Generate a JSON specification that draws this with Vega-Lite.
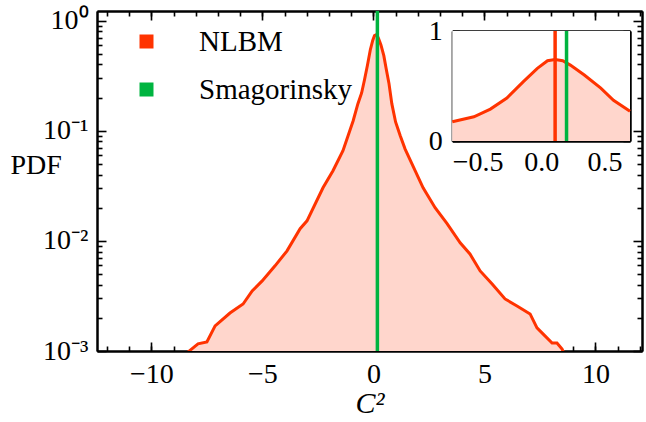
{
  "$schema": "https://vega.github.io/schema/vega-lite/v6.json",
  "autosize": "none",
  "width": 545,
  "height": 340,
  "padding": {"left": 97, "top": 11, "right": 4, "bottom": 71},
  "background": "white",
  "config": {
    "view": {"stroke": null},
    "axis": {
      "grid": false,
      "domainColor": "black",
      "domainWidth": 2,
      "tickColor": "black",
      "tickWidth": 1.6,
      "labelFont": "Liberation Serif",
      "labelFontSize": 28,
      "labelColor": "black",
      "titleFont": "Liberation Serif",
      "titleColor": "black",
      "titleFontWeight": "normal"
    },
    "legend": {
      "labelFont": "Liberation Serif",
      "labelFontSize": 29,
      "labelColor": "black"
    }
  },
  "datasets": {
    "pdf": [
      {"c": -8.7, "pdf": 0.0008},
      {"c": -8.35, "pdf": 0.00098},
      {"c": -7.9, "pdf": 0.00116},
      {"c": -7.5, "pdf": 0.00121},
      {"c": -7.13, "pdf": 0.00169},
      {"c": -6.46, "pdf": 0.00221},
      {"c": -5.87, "pdf": 0.00267},
      {"c": -5.46, "pdf": 0.00351},
      {"c": -5.01, "pdf": 0.00433},
      {"c": -4.43, "pdf": 0.00593},
      {"c": -3.89, "pdf": 0.00811},
      {"c": -3.3, "pdf": 0.0129},
      {"c": -2.99, "pdf": 0.0152},
      {"c": -2.27, "pdf": 0.0303},
      {"c": -1.82, "pdf": 0.0433},
      {"c": -1.37, "pdf": 0.0658},
      {"c": -0.91, "pdf": 0.123},
      {"c": -0.7, "pdf": 0.175},
      {"c": -0.53, "pdf": 0.22},
      {"c": -0.4, "pdf": 0.29},
      {"c": -0.27, "pdf": 0.39},
      {"c": -0.14, "pdf": 0.54},
      {"c": -0.03, "pdf": 0.66},
      {"c": 0.05, "pdf": 0.73},
      {"c": 0.11, "pdf": 0.74},
      {"c": 0.17, "pdf": 0.73},
      {"c": 0.23, "pdf": 0.69},
      {"c": 0.34, "pdf": 0.6},
      {"c": 0.47, "pdf": 0.48},
      {"c": 0.57, "pdf": 0.37},
      {"c": 0.7, "pdf": 0.27},
      {"c": 0.83, "pdf": 0.176},
      {"c": 1.0, "pdf": 0.12},
      {"c": 1.21, "pdf": 0.09},
      {"c": 1.43, "pdf": 0.068},
      {"c": 1.78, "pdf": 0.048},
      {"c": 2.24, "pdf": 0.0303},
      {"c": 2.78, "pdf": 0.02},
      {"c": 3.32, "pdf": 0.0143},
      {"c": 3.91, "pdf": 0.0096},
      {"c": 4.35, "pdf": 0.0076},
      {"c": 4.81, "pdf": 0.00533},
      {"c": 5.35, "pdf": 0.00406},
      {"c": 5.93, "pdf": 0.00297},
      {"c": 6.47, "pdf": 0.00256},
      {"c": 7.06, "pdf": 0.00217},
      {"c": 7.37, "pdf": 0.00162},
      {"c": 7.64, "pdf": 0.00143},
      {"c": 8.05, "pdf": 0.00118},
      {"c": 8.27, "pdf": 0.00118},
      {"c": 8.5, "pdf": 0.00104},
      {"c": 8.7, "pdf": 0.00085}
    ]
  },
  "layer": [
    {
      "layer": [
        {
          "data": {"name": "pdf"},
          "mark": {"type": "area", "color": "#ffd6cc", "clip": true},
          "encoding": {
            "x": {
              "field": "c", "type": "quantitative",
              "scale": {"domain": [-12.45, 12.1], "nice": false, "zero": false},
              "axis": {"orient": "bottom", "values": [-10, -5, 0, 5, 10], "format": "d", "tickSize": -9, "labelPadding": 18,
                "title": "C²", "titleFontSize": 30, "titleFontStyle": "italic", "titlePadding": 0}
            },
            "y": {
              "field": "pdf", "type": "quantitative",
              "scale": {"type": "log", "domain": [0.001, 1.22], "nice": false, "zero": false},
              "axis": {"orient": "left", "values": [0.001, 0.01, 0.1, 1], "tickSize": -9, "labelPadding": 18,
                "labelExpr": "datum.value > 0.5 ? '10⁰' : datum.value > 0.05 ? '10⁻¹' : datum.value > 0.005 ? '10⁻²' : '10⁻³'",
                "title": "PDF", "titleFontSize": 28, "titleAngle": 0, "titleAlign": "left", "titleBaseline": "middle", "titleX": -87, "titleY": 154}
            },
            "y2": {"datum": 0.00001}
          }
        },
        {
          "data": {"name": "pdf"},
          "mark": {"type": "line", "strokeWidth": 3, "clip": true},
          "encoding": {
            "x": {"field": "c", "type": "quantitative",
              "axis": {"orient": "bottom", "values": [-12, -11, -10, -9, -8, -7, -6, -5, -4, -3, -2, -1, 0, 1, 2, 3, 4, 5, 6, 7, 8, 9, 10, 11, 12], "tickSize": -5, "labels": false, "title": null}},
            "y": {"field": "pdf", "type": "quantitative",
              "axis": {"orient": "left", "values": [0.002, 0.003, 0.004, 0.005, 0.006, 0.007, 0.008, 0.009, 0.02, 0.03, 0.04, 0.05, 0.06, 0.07, 0.08, 0.09, 0.2, 0.3, 0.4, 0.5, 0.6, 0.7, 0.8, 0.9], "tickSize": -5, "labels": false, "title": null}},
            "color": {
              "datum": "NLBM", "type": "nominal",
              "scale": {"domain": ["NLBM", "Smagorinsky"], "range": ["#ff3300", "#00b440"]},
              "legend": {"orient": "none", "legendX": 35, "legendY": 16, "title": null, "symbolType": "square", "symbolSize": 36, "symbolStrokeWidth": 8, "labelOffset": 38, "rowPadding": 9, "padding": 0}
            }
          }
        },
        {
          "data": {"name": "pdf"},
          "mark": {"type": "point", "opacity": 0},
          "encoding": {
            "x": {"field": "c", "type": "quantitative",
              "axis": {"orient": "top", "values": [-10, -5, 0, 5, 10], "tickSize": -9, "labels": false, "title": null}},
            "y": {"field": "pdf", "type": "quantitative",
              "axis": {"orient": "right", "values": [0.001, 0.01, 0.1, 1], "tickSize": -9, "labels": false, "title": null}}
          }
        },
        {
          "data": {"name": "pdf"},
          "mark": {"type": "point", "opacity": 0},
          "encoding": {
            "x": {"field": "c", "type": "quantitative",
              "axis": {"orient": "top", "values": [-12, -11, -10, -9, -8, -7, -6, -5, -4, -3, -2, -1, 0, 1, 2, 3, 4, 5, 6, 7, 8, 9, 10, 11, 12], "tickSize": -5, "labels": false, "title": null}},
            "y": {"field": "pdf", "type": "quantitative",
              "axis": {"orient": "right", "values": [0.002, 0.003, 0.004, 0.005, 0.006, 0.007, 0.008, 0.009, 0.02, 0.03, 0.04, 0.05, 0.06, 0.07, 0.08, 0.09, 0.2, 0.3, 0.4, 0.5, 0.6, 0.7, 0.8, 0.9], "tickSize": -5, "labels": false, "title": null}}
          }
        },
        {
          "data": {"values": [{}]},
          "mark": {"type": "rule", "strokeWidth": 3.5},
          "encoding": {
            "x": {"datum": 0.18, "type": "quantitative", "axis": null},
            "color": {"datum": "Smagorinsky", "type": "nominal"}
          }
        }
      ],
      "resolve": {"axis": {"x": "independent", "y": "independent"}}
    },
    {
      "layer": [
        {
          "data": {"values": [{}]},
          "mark": {"type": "rect", "color": "white"},
          "encoding": {
            "x": {"datum": -0.7, "type": "quantitative",
              "scale": {"domain": [-0.7, 0.7], "range": [355.3, 533], "nice": false, "zero": false},
              "axis": {"orient": "top", "offset": -20, "values": [-0.5, 0, 0.5], "tickSize": -7, "labels": false, "title": null}},
            "x2": {"datum": 0.7},
            "y": {"datum": 0, "type": "quantitative",
              "scale": {"domain": [0, 1], "range": [130, 20], "nice": false, "zero": false},
              "axis": {"orient": "right", "offset": -12, "values": [0, 1], "tickSize": -7, "labels": false, "title": null}},
            "y2": {"datum": 1}
          }
        },
        {
          "data": {"name": "pdf"},
          "transform": [{"filter": "datum.c >= -0.7 && datum.c <= 0.7"}],
          "mark": {"type": "area", "color": "#ffd6cc"},
          "encoding": {
            "x": {"field": "c", "type": "quantitative",
              "axis": {"orient": "bottom", "offset": -210, "values": [-0.5, 0, 0.5], "format": ".1f", "tickSize": -7, "labelPadding": 14, "title": null}},
            "y": {"field": "pdf", "type": "quantitative",
              "axis": {"orient": "left", "offset": -355.3, "values": [0, 1], "format": "d", "tickSize": -7, "labelPadding": 17, "title": null}},
            "y2": {"datum": 0}
          }
        },
        {
          "data": {"name": "pdf"},
          "transform": [{"filter": "datum.c >= -0.7 && datum.c <= 0.7"}],
          "mark": {"type": "line", "color": "#ff3300", "strokeWidth": 3},
          "encoding": {
            "x": {"field": "c", "type": "quantitative",
              "axis": {"orient": "bottom", "offset": -210, "values": [-0.6, -0.4, -0.3, -0.2, -0.1, 0.1, 0.2, 0.3, 0.4, 0.6], "tickSize": -4, "labels": false, "title": null}},
            "y": {"field": "pdf", "type": "quantitative",
              "axis": {"orient": "left", "offset": -355.3, "values": [0.2, 0.4, 0.6, 0.8], "tickSize": -5, "labels": false, "title": null}}
          }
        },
        {
          "data": {"values": [{}]},
          "mark": {"type": "rule", "color": "#ff3300", "strokeWidth": 3.5},
          "encoding": {
            "x": {"datum": 0.11, "type": "quantitative",
              "axis": {"orient": "top", "offset": -20, "values": [-0.6, -0.4, -0.3, -0.2, -0.1, 0.1, 0.2, 0.3, 0.4, 0.6], "tickSize": -4, "labels": false, "title": null}},
            "y": {"datum": 0, "type": "quantitative",
              "axis": {"orient": "right", "offset": -12, "values": [0.2, 0.4, 0.6, 0.8], "tickSize": -5, "labels": false, "title": null}},
            "y2": {"datum": 1}
          }
        },
        {
          "data": {"values": [{}]},
          "mark": {"type": "rule", "color": "#00b440", "strokeWidth": 3.5},
          "encoding": {
            "x": {"datum": 0.2, "type": "quantitative", "axis": null},
            "y": {"datum": 0, "type": "quantitative", "axis": null},
            "y2": {"datum": 1}
          }
        }
      ],
      "resolve": {"axis": {"x": "independent", "y": "independent"}}
    }
  ],
  "resolve": {
    "scale": {"x": "independent", "y": "independent"},
    "axis": {"x": "independent", "y": "independent"}
  }
}
